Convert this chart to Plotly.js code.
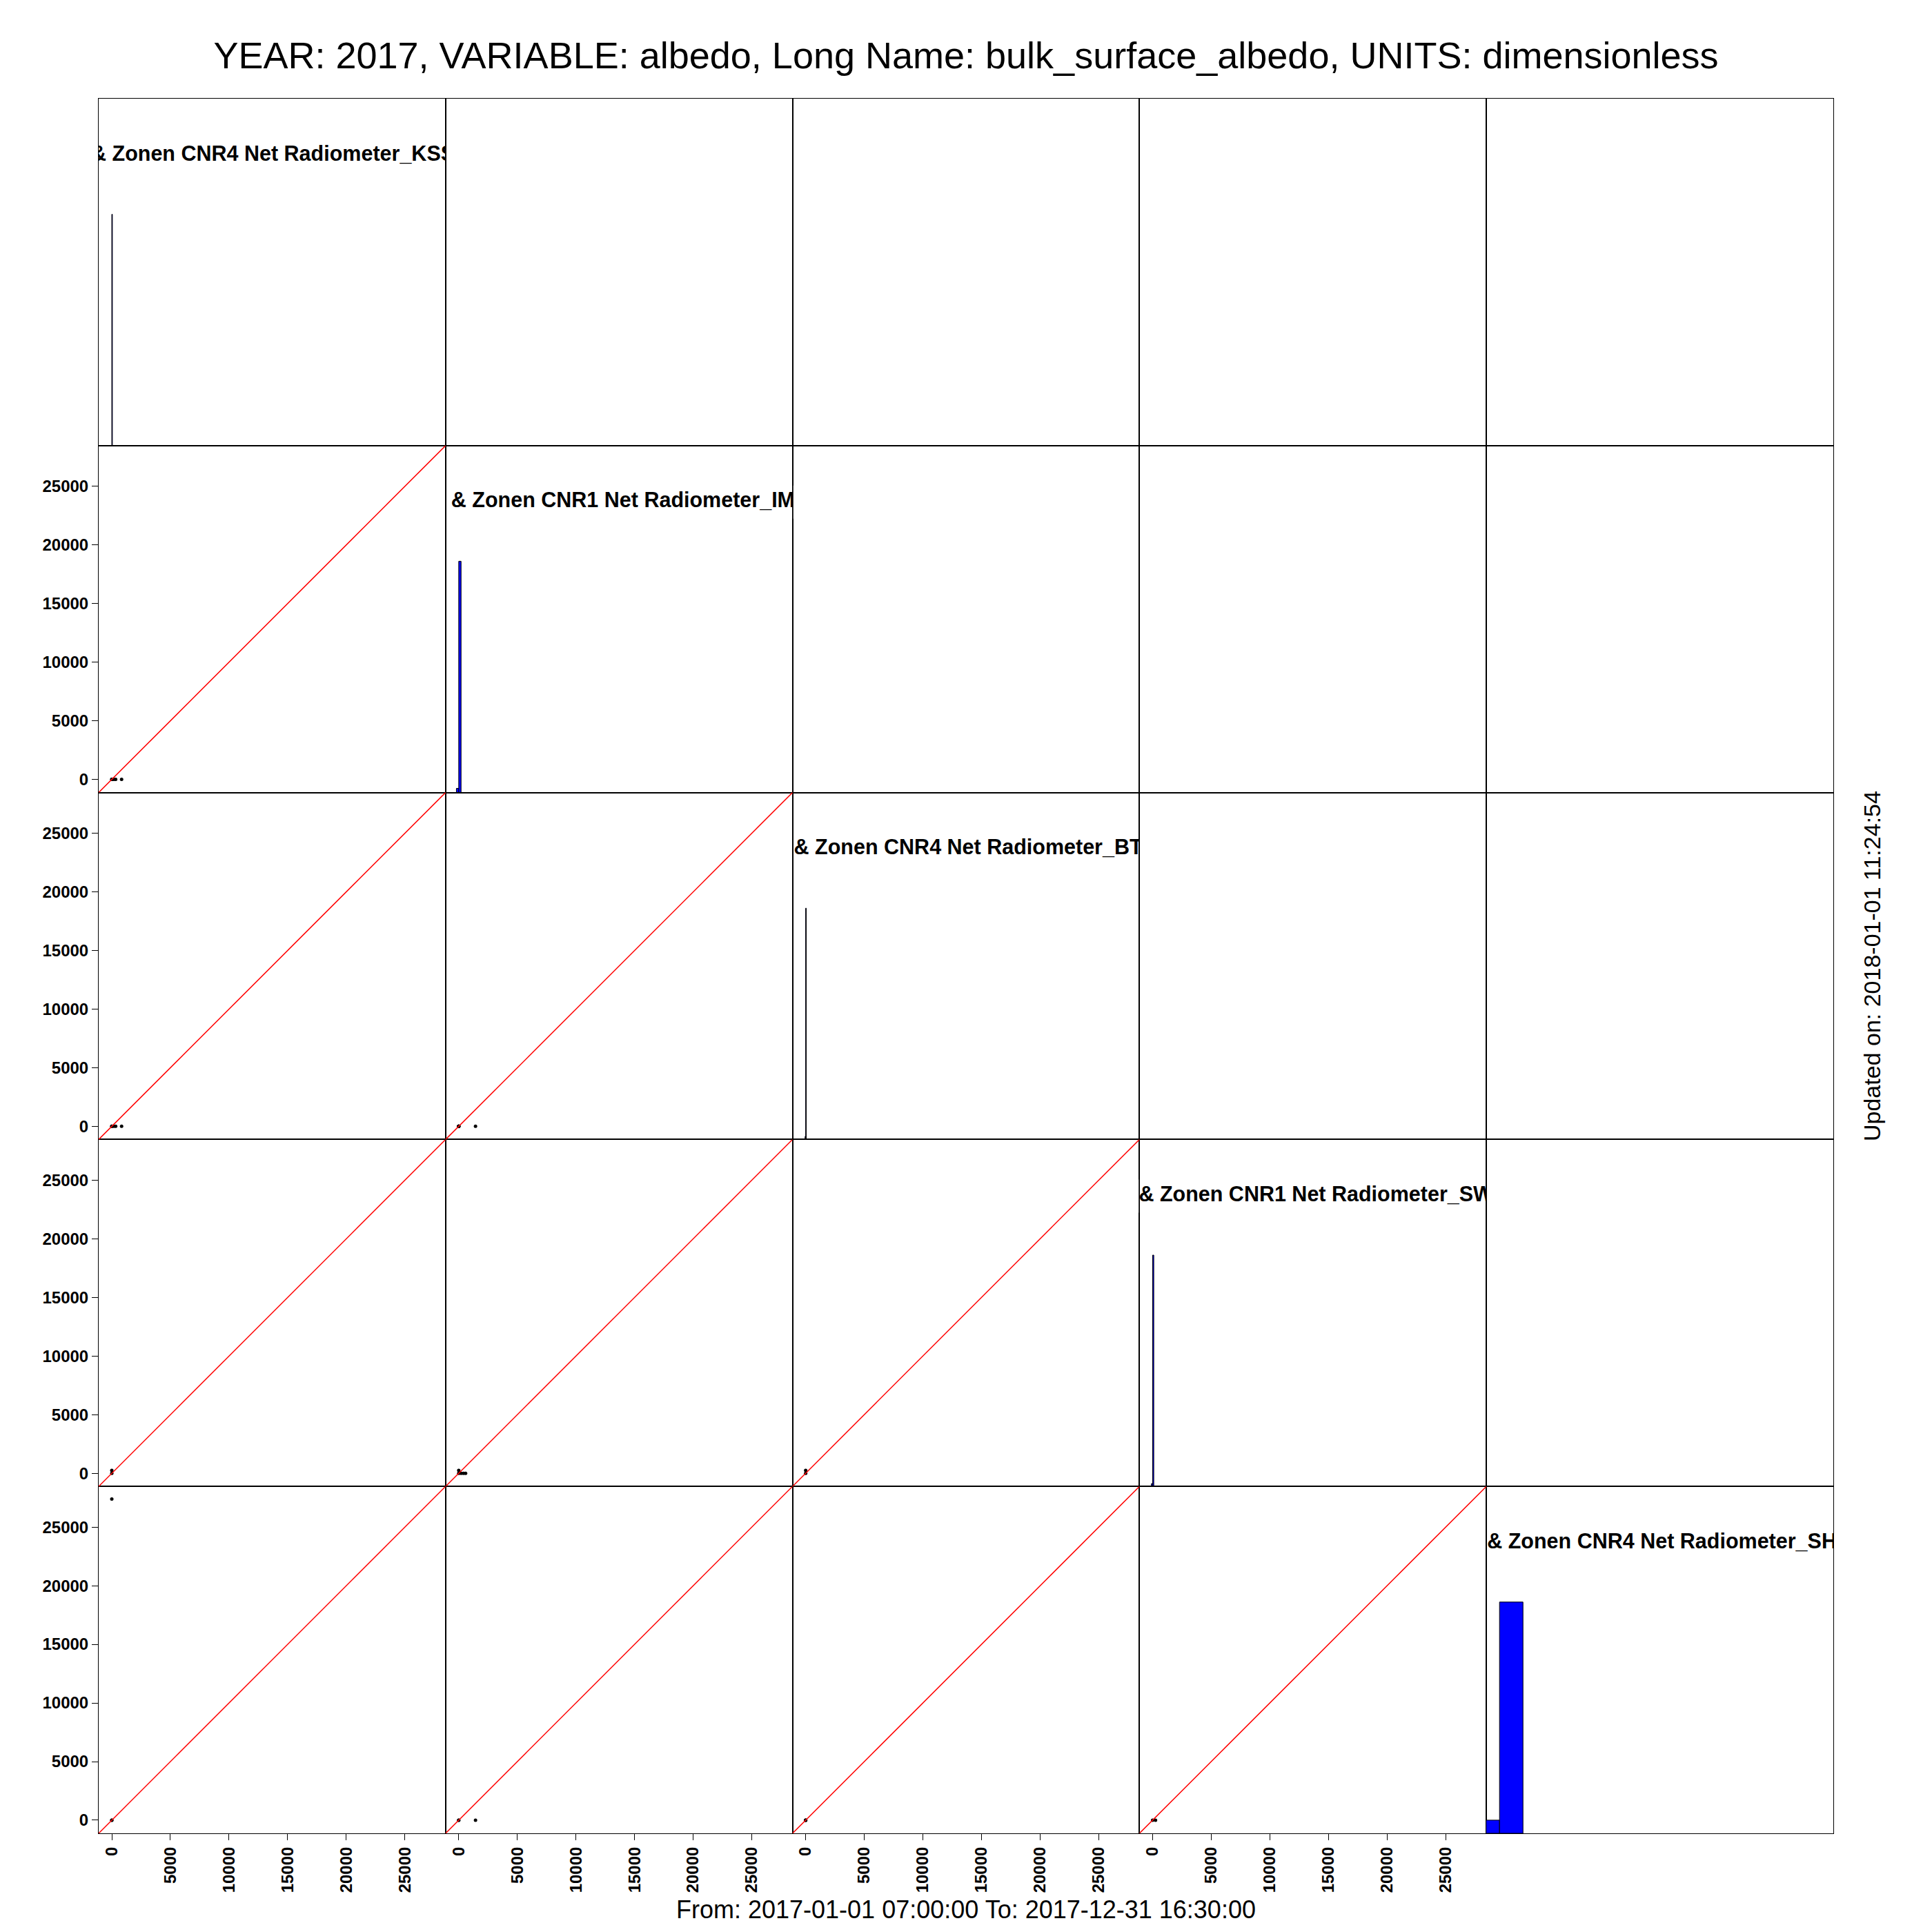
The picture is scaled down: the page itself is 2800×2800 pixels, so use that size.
<!DOCTYPE html>
<html><head><meta charset="utf-8">
<script src="https://cdn.plot.ly/plotly-3.0.1.min.js"></script>
<style>html,body{margin:0;padding:0;background:#fff}</style>
</head><body>
<div id="chart" style="width:2800px;height:2800px"></div>
<script>
// ---- data ----
const variableLabels = [
  "& Zonen CNR4 Net Radiometer_KSS",
  "& Zonen CNR1 Net Radiometer_IM",
  "& Zonen CNR4 Net Radiometer_BT",
  "& Zonen CNR1 Net Radiometer_SW",
  "& Zonen CNR4 Net Radiometer_SH"
];
// observation rows (null = missing value)
const albedoKSS = [0, 170, 330, 835, null, null, null, null, 0, 0];
const albedoIM  = [0, 0, 0, 0, 1430, 585, 200, 400, 0, null];
const albedoBT  = [0, 0, 0, 0, 0, null, null, null, 0, null];
const albedoSW  = [0, null, null, null, null, 0, 0, 0, 250, null];
const albedoSH  = [0, null, null, null, 0, null, null, null, 0, 27400];

// histogram breaks and relative bar heights (count / max count)
const histBreaksKSS = [0, 50];          const histHeightsKSS = [1.0];
const histBreaksIM  = [-200, 0, 200];   const histHeightsIM  = [0.018, 1.0];
const histBreaksBT  = [-50, 0, 50];     const histHeightsBT  = [0.013, 1.0];
const histBreaksSW  = [-100, 0, 100];   const histHeightsSW  = [0.012, 1.0];
const histBreaksSH  = [-2000, 0, 2000]; const histHeightsSH  = [0.057, 1.0];

const tickValues = [0, 5000, 10000, 15000, 20000, 25000];
const tickLabels = ["0", "5000", "10000", "15000", "20000", "25000"];

const titleText = "YEAR: 2017, VARIABLE: albedo, Long Name: bulk_surface_albedo, UNITS: dimensionless";
const fromToText = "From: 2017-01-01 07:00:00 To: 2017-12-31 16:30:00";
const updatedText = "Updated on: 2018-01-01 11:24:54";

// ---- build ----
const vars = [albedoKSS, albedoIM, albedoBT, albedoSW, albedoSH];
const histBreaks = [histBreaksKSS, histBreaksIM, histBreaksBT, histBreaksSW, histBreaksSH];
const histHeights = [histHeightsKSS, histHeightsIM, histHeightsBT, histHeightsSW, histHeightsSH];

const N = 5;
const LO = -1120, HI = 28470;       // shared axis limits
const HIST_TOP = 1.5;               // histogram panel y limit
const MARGIN = 143;
const GRID_PX = 2514;
const PANEL_PX = GRID_PX / N;
const labelOffsetPx = [-11, 8, 2, -1, 1];
const labelFromTopPx = 82;
const FONT = "Liberation Sans, Arial, Helvetica, sans-serif";
const TICKFONT = {family: FONT, size: 24, color: "#000000", weight: "bold"};

const traces = [];
const shapes = [];
const layout = {
  width: 2800, height: 2800,
  margin: {l: MARGIN, r: MARGIN, t: MARGIN, b: MARGIN, pad: 0},
  paper_bgcolor: "#ffffff", plot_bgcolor: "#ffffff",
  showlegend: false,
  font: {family: FONT, color: "#000000", size: 24, weight: "bold"},
  title: {
    text: titleText,
    font: {family: FONT, size: 54, color: "#000000", weight: "normal"},
    x: 0.5, xref: "paper", xanchor: "center",
    y: 1 - 80 / 2800, yref: "container", yanchor: "middle"
  },
  annotations: [
    {text: fromToText, xref: "paper", yref: "paper", x: 0.5, y: 0,
     xanchor: "center", yanchor: "middle", yshift: -110, showarrow: false,
     font: {family: FONT, size: 36, color: "#000000", weight: "normal"}},
    {text: updatedText, xref: "paper", yref: "paper", x: 1, y: 0.5,
     xanchor: "center", yanchor: "middle", xshift: 56, textangle: -90, showarrow: false,
     font: {family: FONT, size: 34, color: "#000000", weight: "normal"}}
  ],
  shapes: shapes
};

function axName(k, letter) { return k === 1 ? letter : letter + k; }
function px2paperX(px) { return (px - MARGIN) / GRID_PX; }
function px2paperY(py) { return 1 - (py - MARGIN) / GRID_PX; }

for (let r = 0; r < N; r++) {
  for (let c = 0; c < N; c++) {
    const k = r * N + c + 1;
    const xa = axName(k, "x"), ya = axName(k, "y");
    const xKey = k === 1 ? "xaxis" : "xaxis" + k;
    const yKey = k === 1 ? "yaxis" : "yaxis" + k;
    const showX = (r === N - 1 && c < N - 1);
    const showY = (c === 0 && r > 0);
    layout[xKey] = {
      domain: [c / N, (c + 1) / N], anchor: ya, range: [LO, HI],
      showline: true, mirror: true, linecolor: "#000000", linewidth: 1,
      showgrid: false, zeroline: false, fixedrange: true,
      ticks: showX ? "outside" : "", ticklen: 9, tickwidth: 1, tickcolor: "#000000",
      showticklabels: showX, tickmode: "array", tickvals: tickValues, ticktext: tickLabels,
      tickangle: -90, tickfont: TICKFONT
    };
    layout[yKey] = {
      domain: [1 - (r + 1) / N, 1 - r / N], anchor: xa,
      range: r === c ? [0, HIST_TOP] : [LO, HI],
      showline: true, mirror: true, linecolor: "#000000", linewidth: 1,
      showgrid: false, zeroline: false, fixedrange: true,
      ticks: showY ? "outside" : "", ticklen: 9, tickwidth: 1, tickcolor: "#000000",
      showticklabels: showY, tickmode: "array", tickvals: tickValues, ticktext: tickLabels,
      tickangle: 0, tickfont: TICKFONT
    };

    if (r > c) {
      traces.push({
        type: "scatter", mode: "markers", xaxis: xa, yaxis: ya,
        x: vars[c], y: vars[r],
        marker: {color: "#000000", size: 5, line: {width: 0}},
        hoverinfo: "skip", cliponaxis: true
      });
      shapes.push({
        type: "line", xref: xa, yref: ya, x0: LO, y0: LO, x1: HI, y1: HI,
        line: {color: "#ff0000", width: 1.5}, layer: "above"
      });
    } else if (r < c) {
      // empty upper panel (frame only)
      traces.push({type: "scatter", mode: "markers", xaxis: xa, yaxis: ya,
                   x: [], y: [], hoverinfo: "skip"});
    } else {
      const br = histBreaks[r], hh = histHeights[r];
      for (let i = 0; i < hh.length; i++) {
        traces.push({
          type: "scatter", mode: "lines", xaxis: xa, yaxis: ya,
          x: [br[i], br[i], br[i + 1], br[i + 1], br[i]],
          y: [0, hh[i], hh[i], 0, 0],
          fill: "toself", fillcolor: "#0000ff",
          line: {color: "#000000", width: 1},
          hoverinfo: "skip"
        });
      }
      const unitPerPx = (HI - LO) / PANEL_PX;
      traces.push({
        type: "scatter", mode: "text", xaxis: xa, yaxis: ya,
        x: [LO + labelOffsetPx[r] * unitPerPx],
        y: [HIST_TOP * (1 - labelFromTopPx / PANEL_PX)],
        text: [variableLabels[r]], textposition: "middle right", cliponaxis: true,
        textfont: {family: FONT, size: 30.5, color: "#000000", weight: "bold"},
        hoverinfo: "skip"
      });
      // narrow white masks so the label looks clipped at the panel edges
      const L = MARGIN + r * PANEL_PX, R = L + PANEL_PX, T = MARGIN + r * PANEL_PX;
      const y0 = px2paperY(T + labelFromTopPx + 24), y1 = px2paperY(T + labelFromTopPx - 24);
      shapes.push({type: "rect", xref: "paper", yref: "paper", layer: "above",
        x0: px2paperX(L - 24), x1: px2paperX(L - 1.2), y0: y0, y1: y1,
        fillcolor: "#ffffff", line: {width: 0}});
      shapes.push({type: "rect", xref: "paper", yref: "paper", layer: "above",
        x0: px2paperX(R + 1.2), x1: px2paperX(R + 90), y0: y0, y1: y1,
        fillcolor: "#ffffff", line: {width: 0}});
    }
  }
}

Plotly.newPlot("chart", traces, layout, {staticPlot: true, displayModeBar: false});
</script>
</body></html>
